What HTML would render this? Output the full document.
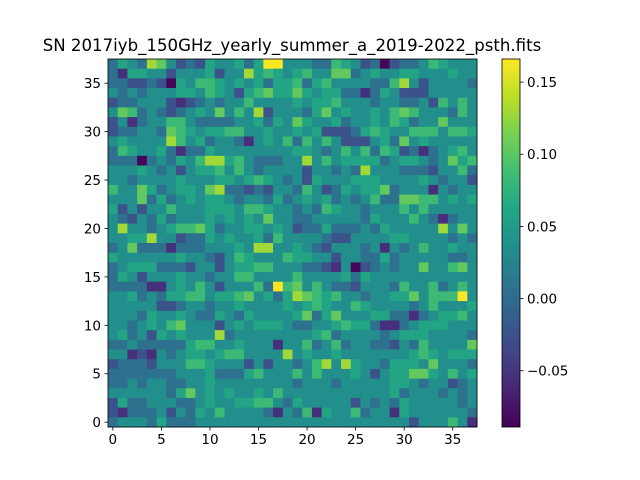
<!DOCTYPE html>
<html><head><meta charset="utf-8">
<style>
html,body{margin:0;padding:0;background:#fff;}
svg{display:block;font-family:"DejaVu Sans","Liberation Sans",sans-serif;}
</style></head>
<body>
<svg id="chart" width="640" height="480" viewBox="0 0 640 480" xmlns="http://www.w3.org/2000/svg">
<rect width="640" height="480" fill="#fff"/>
<text x="292" y="51" font-size="16.6" text-anchor="middle">SN 2017iyb_150GHz_yearly_summer_a_2019-2022_psth.fits</text>
<g id="cells"></g>
<g id="axes"></g>
<defs><linearGradient id="cbgrad" x1="0" y1="1" x2="0" y2="0"></linearGradient></defs>
<g id="cbar"></g>
</svg>
<script>
// rows from y=37 (top) down to y=0; each digit = intensity level 0..9
const gridRows = [
"3543874232544535994"+"4433654230233465444",
"3155442444524485654"+"5644773454455444544",
"3322320546654545355"+"6356444433684244443",
"4343444554654256755"+"7545533135422244444",
"2334442123434464444"+"5455644434433426464",
"4763432345474648244"+"4357454454676444364",
"2413446643333445354"+"7544534454653447444",
"2334437654556644544"+"5452223565446664665",
"4544448645344314546"+"3646422245374544444",
"3654453133544444444"+"5543464636523134564",
"3330343546885643334"+"4846455553455434756",
"4445434245564643444"+"4244343844433324463",
"4434444544455456543"+"4254445554444543442",
"6447534554783323244"+"3642354557344414344",
"4447353454554344353"+"4545343463377664545",
"5242446444555466544"+"3436544344464644444",
"4324353444545454744"+"3344444354446431344",
"4844345667534455454"+"2335333435444448474",
"4455844233545445364"+"4443224444554444343",
"3473331333444548844"+"5432444341434644544",
"5444444544324654446"+"5544244335344444334",
"3455533324424556644"+"4332140234344744674",
"3542444544344664444"+"6444453544444444444",
"3333114546424446396"+"7464332444364463464",
"4453435566455674535"+"8765644344557466694",
"4444422344344544445"+"4565446544443464445",
"4443544543354354444"+"5735744455331345564",
"4434546744424545554"+"3344565531134555444",
"4534254544483444444"+"4456344443455544443",
"3343333356644544414"+"4634634433243644447",
"4412143455456644448"+"4544544444445654555",
"2333244466544424244"+"3468485443555474443",
"3333333444533356444"+"6464445424557754645",
"3343443344544444444"+"3444344444554344234",
"4444443574545445464"+"4444444444534443434",
"2533444334544556643"+"5444442434354444434",
"2133342435464444314"+"3615446344154444443",
"3444353334444444444"+"4444444444442444641"
];
const levelValues = [-0.085,-0.055,-0.025,0.006,0.036,0.06,0.083,0.104,0.13,0.166];
const xTicks = [0,5,10,15,20,25,30,35];
const yTicks = [0,5,10,15,20,25,30,35];
const cbTicks = [-0.05,0.00,0.05,0.10,0.15];
const cbLabels = ["\u22120.05","0.00","0.05","0.10","0.15"];

const NS="http://www.w3.org/2000/svg";
const X0=108,X1=477,Y0=59,Y1=427,N=38;
const vmin=-0.089,vmax=0.166;
const xs=i=>X0+(i+0.5)*(X1-X0)/N;
const ys=j=>Y1-(j+0.5)*(Y1-Y0)/N;
const cw=(X1-X0)/N,ch=(Y1-Y0)/N;
const vir=[[68,1,84],[72,36,117],[65,68,135],[53,95,141],[42,120,142],[33,145,140],[34,168,132],[68,191,112],[122,209,81],[189,223,38],[253,231,37]];
function cmap(v){let t=(v-vmin)/(vmax-vmin);t=Math.max(0,Math.min(1,t));const p=t*10,i=Math.min(9,Math.floor(p)),f=p-i;const a=vir[i],b=vir[i+1];return `rgb(${Math.round(a[0]+(b[0]-a[0])*f)},${Math.round(a[1]+(b[1]-a[1])*f)},${Math.round(a[2]+(b[2]-a[2])*f)})`;}
function mk(tag,attrs,parent){const e=document.createElementNS(NS,tag);for(const k in attrs)e.setAttribute(k,attrs[k]);parent.appendChild(e);return e;}
const cells=document.getElementById('cells');
gridRows.forEach((row,r)=>{const j=N-1-r;for(let i=0;i<N;i++){const v=levelValues[+row[i]];
 const c=mk('rect',{x:(xs(i)-cw/2).toFixed(2),y:(ys(j)-ch/2).toFixed(2),width:(cw+0.4).toFixed(2),height:(ch+0.4).toFixed(2),fill:cmap(v)},cells);
 
 }});
const axes=document.getElementById('axes');
const frame=mk('rect',{x:X0,y:Y0,width:X1-X0,height:Y1-Y0,fill:'none',stroke:'#000','stroke-width':0.8},axes);


xTicks.forEach(t=>{const x=xs(t);mk('line',{x1:x,y1:Y1,x2:x,y2:Y1+3.5,stroke:'#000','stroke-width':0.8},axes);
 const l=mk('text',{x:x,y:Y1+17,'font-size':13.5,'text-anchor':'middle'},axes);l.textContent=t;
 
 });
yTicks.forEach(t=>{const y=ys(t);mk('line',{x1:X0,y1:y,x2:X0-3.5,y2:y,stroke:'#000','stroke-width':0.8},axes);
 const l=mk('text',{x:X0-7,y:y+5,'font-size':13.5,'text-anchor':'end'},axes);l.textContent=t;
 
 });
const CX0=502,CX1=520;
const grad=document.getElementById('cbgrad');
vir.forEach((c,k)=>mk('stop',{offset:(k/10),'stop-color':`rgb(${c[0]},${c[1]},${c[2]})`},grad));
const cb=document.getElementById('cbar');
const cbr=mk('rect',{x:CX0,y:Y0,width:CX1-CX0,height:Y1-Y0,fill:'url(#cbgrad)',stroke:'#000','stroke-width':0.8},cb);


const cy=v=>Y1-(v-vmin)/(vmax-vmin)*(Y1-Y0);
cbTicks.forEach((t,k)=>{const y=cy(t);mk('line',{x1:CX1,y1:y,x2:CX1+3.5,y2:y,stroke:'#000','stroke-width':0.8},cb);
 const l=mk('text',{x:CX1+7,y:y+5,'font-size':13.5},cb);l.textContent=cbLabels[k];
 
 });
</script>
</body></html>
